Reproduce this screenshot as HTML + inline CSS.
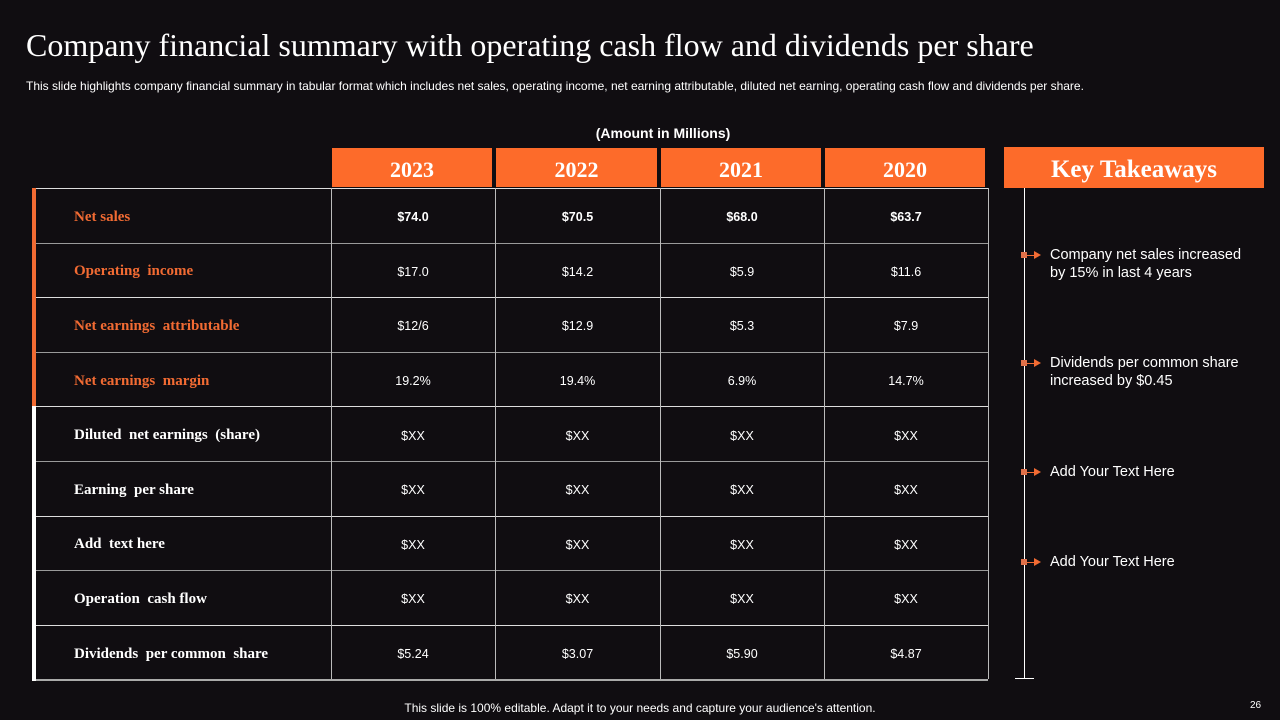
<!DOCTYPE html>
<html><head><meta charset="utf-8"><style>
body{margin:0;width:1280px;height:720px;background:#100d11;position:relative;overflow:hidden;font-family:"Liberation Sans",sans-serif;color:#fff}
.a{position:absolute}
.hd{background:#fd6b2a;color:#fff;font-family:"Liberation Serif",serif;font-weight:bold;font-size:22px;display:flex;align-items:center;justify-content:center;padding-top:5px;box-sizing:border-box}
.lab{font-family:"Liberation Serif",serif;font-weight:bold;font-size:15px;display:flex;align-items:center;padding-left:38px;padding-top:4px;box-sizing:border-box}
.val{font-size:12.5px;display:flex;align-items:center;justify-content:center;padding-top:4px;box-sizing:border-box}
.tk{font-size:14.5px;line-height:18px;color:#fff}
</style></head><body>
<div class="a" style="left:26px;top:27px;font-family:'Liberation Serif',serif;font-size:32px;">Company financial summary with operating cash flow and dividends per share</div>
<div class="a" style="left:26px;top:79px;font-size:12px;">This slide highlights company financial summary in tabular format which includes net sales, operating income, net earning attributable, diluted net earning, operating cash flow and dividends per share.</div>
<div class="a" style="left:560px;top:125px;width:206px;text-align:center;font-size:14px;font-weight:bold;">(Amount in Millions)</div>
<div id="tbl"></div>
<div class="a hd" style="left:1004px;top:147px;width:260px;height:41px;font-size:25px;">Key Takeaways</div>
<div class="a" style="left:1024px;top:188px;width:1px;height:491px;background:#fff"></div>
<div class="a" style="left:1015px;top:678px;width:19px;height:1px;background:#fff"></div>
<div id="tks"></div>
<div class="a" style="left:0;width:1280px;top:701px;text-align:center;font-size:12px;">This slide is 100% editable. Adapt it to your needs and capture your audience's attention.</div>
<div class="a" style="left:1250px;top:700px;font-size:10px;">26</div>
<script>
const years=["2023","2022","2021","2020"];
const labels=["Net sales","Operating  income","Net earnings  attributable","Net earnings  margin","Diluted  net earnings  (share)","Earning  per share","Add  text here","Operation  cash flow","Dividends  per common  share"];
const v2023=["$74.0","$17.0","$12/6","19.2%","$XX","$XX","$XX","$XX","$5.24"];
const v2022=["$70.5","$14.2","$12.9","19.4%","$XX","$XX","$XX","$XX","$3.07"];
const v2021=["$68.0","$5.9","$5.3","6.9%","$XX","$XX","$XX","$XX","$5.90"];
const v2020=["$63.7","$11.6","$7.9","14.7%","$XX","$XX","$XX","$XX","$4.87"];
const takeaways=["Company net sales increased<br>by 15% in last 4 years","Dividends per common share<br>increased by $0.45","Add Your Text Here","Add Your Text Here"];
const tkY=[246,354,463,553];
const cols=[v2023,v2022,v2021,v2020];
const T=document.getElementById('tbl');
const colX=[331,495,660,824,988], top0=188, rowH=54.6;
function mk(cls,st,html){const d=document.createElement('div');d.className='a '+cls;d.style.cssText=st;d.innerHTML=html;T.appendChild(d);return d;}
years.forEach((y,i)=>{const d=mk('hd',`left:${colX[i]+1}px;top:148px;width:${colX[i+1]-colX[i]-4}px;height:39px;`,y);

});
labels.forEach((l,r)=>{const yy=top0+r*rowH;
const d=mk('lab',`left:36px;top:${yy}px;width:295px;height:${rowH}px;color:${r<4?'#f26b33':'#fff'};white-space:pre`,l);


cols.forEach((c,i)=>{const e=mk('val',`left:${colX[i]}px;top:${yy}px;width:${colX[i+1]-colX[i]}px;height:${rowH}px;${r==0?'font-weight:bold':''}`,c[r]);

});
const ln=mk('',`left:36px;top:${Math.round(yy)}px;width:952px;height:1px;background:${r%2?'#9a9a9a':'#ddd'}`,'');

});
const bl=mk('',`left:36px;top:679px;width:952px;height:2px;background:#aaa`,'');


colX.forEach(x=>{const c=mk('',`left:${x}px;top:188px;width:1px;height:491px;background:#bbb`,'');

});
const ob=mk('',`left:32px;top:188px;width:4px;height:${Math.round(rowH*4)}px;background:#f26b33`,'');


const wb=mk('',`left:32px;top:${188+Math.round(rowH*4)}px;width:4px;height:${491-Math.round(rowH*4)+2}px;background:#fff`,'');


const K=document.getElementById('tks');
takeaways.forEach((t,i)=>{const d=document.createElement('div');d.className='a';d.style.cssText=`left:1021px;top:${tkY[i]}px;width:250px;`;
d.innerHTML=`<div class="a" style="left:0;top:6px;width:6px;height:6px;background:#e0714a"></div><div class="a" style="left:6px;top:8.5px;width:9px;height:1px;background:#f26b33"></div><div class="a" style="left:13px;top:5px;width:0;height:0;border-left:7px solid #f26b33;border-top:4px solid transparent;border-bottom:4px solid transparent"></div><div class="a tk" style="left:29px;top:0;white-space:nowrap">${t}</div>`;


K.appendChild(d);});
</script>
</body></html>
